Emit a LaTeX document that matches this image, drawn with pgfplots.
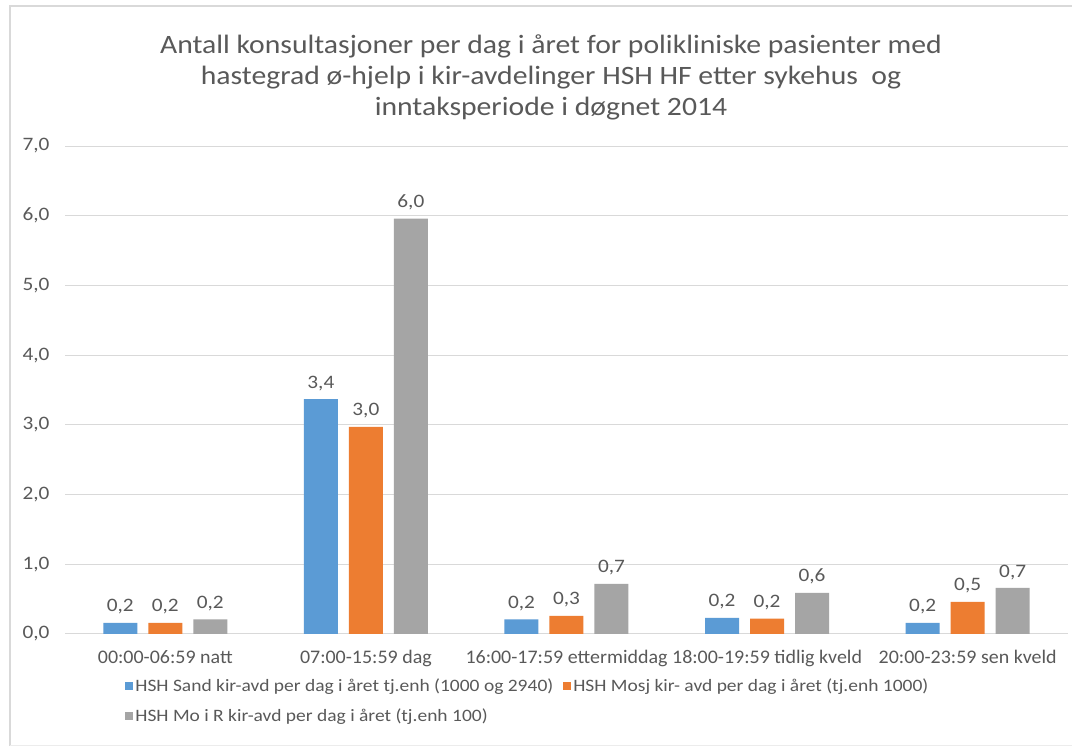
\documentclass[border=0pt]{standalone}
\usepackage{fontspec}
\setmainfont{Carlito}[FakeStretch=1.12]
\newfontfamily\tickfont{Carlito}[FakeStretch=1.04]
\usepackage{pgfplots}
\pgfplotsset{compat=1.18}
\definecolor{cblue}{HTML}{5B9BD5}
\definecolor{corange}{HTML}{ED7D31}
\definecolor{cgray}{HTML}{A5A5A5}
\definecolor{ctext}{HTML}{595959}
\definecolor{cgrid}{HTML}{D9D9D9}
\begin{document}
\begin{tikzpicture}[x=1pt,y=1pt]
\useasboundingbox (0,0) rectangle (1072,752);
\fill[white] (0,0) rectangle (1072,752);
\draw[cgrid, line width=1.5pt] (10,6) -- (10,746) -- (1072,746);
\draw[cgrid!50, line width=1pt] (10,6) -- (1072,6);
\node[align=center, text=ctext, font=\fontsize{26.5}{31}\selectfont] at (551,675)
  {Antall konsultasjoner per dag i året for polikliniske pasienter med\\
   hastegrad ø-hjelp i kir-avdelinger HSH HF etter sykehus\ \ og\\
   inntaksperiode i døgnet 2014};
\begin{axis}[
  at={(65pt,118pt)}, anchor=south west,
  scale only axis, width=1003pt, height=488pt,
  ymin=0, ymax=7, ytick={0,1,...,7},
  xmin=-0.5, xmax=4.5, xtick={0,1,2,3,4},
  xticklabels={00:00-06:59 natt, 07:00-15:59 dag, 16:00-17:59 ettermiddag, 18:00-19:59 tidlig kveld, 20:00-23:59 sen kveld},
  axis line style={draw=none},
  major tick length=0pt,
  ymajorgrids, grid style={cgrid, line width=1pt},
  ybar=11pt, bar width=34pt,
  /pgf/number format/assume math mode=true,
  tick label style={text=ctext, font=\fontsize{19}{22}\selectfont},
  yticklabel={\pgfmathprintnumber[fixed,fixed zerofill,precision=1,use comma,assume math mode=true]{\tick}},
  y tick label style={xshift=-12pt},
  x tick label style={yshift=-13pt, font=\tickfont\fontsize{19.2}{22}\selectfont},
  nodes near coords={\pgfmathprintnumber[fixed,fixed zerofill,precision=1,use comma,assume math mode=true]{\pgfplotspointmeta}},
  point meta=y,
  nodes near coords style={text=ctext, font=\fontsize{19}{22}\selectfont, yshift=5pt},
  legend columns=2,
  legend cell align=left,
  legend style={draw=none, fill=none, at={(0.057,-0.084)}, anchor=north west,
    font=\fontsize{17.4}{21}\selectfont, text=ctext, row sep=11pt,
    /tikz/every even column/.append style={column sep=8pt}},
  legend image code/.code={\path[#1] (0pt,-4pt) rectangle (8pt,4pt);},
]
\addplot[draw=none, fill=cblue] coordinates {(0,0.16) (1,3.37) (2,0.21) (3,0.23) (4,0.16)};
\addplot[draw=none, fill=corange] coordinates {(0,0.16) (1,2.97) (2,0.26) (3,0.22) (4,0.46)};
\addplot[draw=none, fill=cgray] coordinates {(0,0.21) (1,5.96) (2,0.72) (3,0.59) (4,0.66)};
\legend{HSH Sand kir-avd per dag i året tj.enh (1000 og 2940), HSH Mosj kir- avd per dag i året (tj.enh 1000), HSH Mo i R kir-avd per dag i året (tj.enh 100)}
\end{axis}
\end{tikzpicture}
\end{document}
